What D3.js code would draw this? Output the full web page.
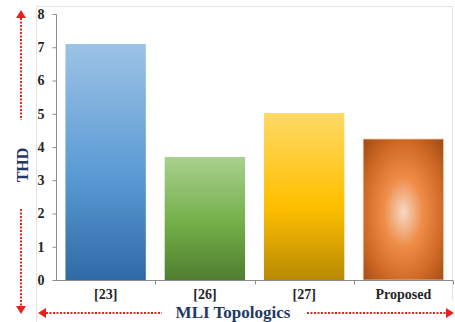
<!DOCTYPE html>
<html><head><meta charset="utf-8">
<script src="https://cdn.jsdelivr.net/npm/d3@7"></script>
<style>html,body{margin:0;padding:0;background:#fff;}svg{display:block;}</style>
</head><body>
<script>
const categories = ["[23]", "[26]", "[27]", "Proposed"];
const thdValues = [7.1, 3.7, 5.02, 4.24];
const yTicks = [0, 1, 2, 3, 4, 5, 6, 7, 8];
const xTitle = "MLI Topologics";
const yTitle = "THD";

const W = 455, H = 322;
const svg = d3.select("body").append("svg").attr("width", W).attr("height", H);
const defs = svg.append("defs");

const grads = [
  ["g0", ["#9dc3e6", "#5b9bd5", "#2f6aa6"]],
  ["g1", ["#a9d18e", "#72ae48", "#4f7e2f"]],
  ["g2", ["#ffd966", "#ffc000", "#b88a05"]]
];
grads.forEach(([id, cs]) => {
  const g = defs.append("linearGradient").attr("id", id).attr("x1", 0).attr("y1", 0).attr("x2", 0).attr("y2", 1);
  g.append("stop").attr("offset", "0%").attr("stop-color", cs[0]);
  g.append("stop").attr("offset", "55%").attr("stop-color", cs[1]);
  g.append("stop").attr("offset", "100%").attr("stop-color", cs[2]);
});
const rg = defs.append("radialGradient").attr("id", "g3").attr("cx", "50%").attr("cy", "52%").attr("r", "70%");
rg.append("stop").attr("offset", "0%").attr("stop-color", "#f8d8c4");
rg.append("stop").attr("offset", "35%").attr("stop-color", "#ee8c48");
rg.append("stop").attr("offset", "70%").attr("stop-color", "#d06a26");
rg.append("stop").attr("offset", "100%").attr("stop-color", "#a24c15");

// chart frame
svg.append("path").attr("d", "M36.5,330 V6.5 H452.5 V300")
  .attr("fill", "none").attr("stroke", "#e3e3e3").attr("stroke-width", 1);

const x = d3.scaleBand().domain(categories).range([56, 453]).paddingInner(0.19).paddingOuter(0.095);
const y = d3.scaleLinear().domain([0, 8]).range([280, 14]);

// bars
svg.append("g").selectAll("rect").data(categories).join("rect")
  .attr("x", d => x(d))
  .attr("width", x.bandwidth())
  .attr("y", (d, i) => y(thdValues[i]))
  .attr("height", (d, i) => y(0) - y(thdValues[i]))
  .attr("fill", (d, i) => `url(#g${i})`)
  .attr("stroke", (d, i) => i === 3 ? "#efc9a5" : "none")
  .attr("stroke-width", 0.8);

// y axis
const yAxis = svg.append("g").attr("transform", "translate(56.5,0)")
  .call(d3.axisLeft(y).tickValues(yTicks).tickSize(4).tickPadding(8).tickFormat(d3.format("d")));
yAxis.select(".domain").attr("stroke", "#8c8c8c").attr("d", "M0,14.5V280.5");
yAxis.selectAll(".tick line").attr("stroke", "#8c8c8c");
yAxis.selectAll("text").attr("font-family", "'Liberation Serif', serif").attr("font-weight", "bold")
  .attr("font-size", 14).attr("fill", "#262626");

// x axis
const xAxis = svg.append("g").attr("transform", "translate(0,280.5)")
  .call(d3.axisBottom(x).tickSize(0).tickPadding(9));
xAxis.select(".domain").attr("stroke", "#8c8c8c").attr("d", "M53,0H453");
xAxis.selectAll("text").attr("font-family", "'Liberation Serif', serif").attr("font-weight", "bold")
  .attr("font-size", 14).attr("fill", "#262626");
// boundary ticks between categories
const bounds = categories.map(c => x(c) - x.step() * x.paddingInner() / 2).concat([453]);
xAxis.append("g").selectAll("line").data(bounds.slice(1)).join("line")
  .attr("x1", d => Math.round(d) + 0.5).attr("x2", d => Math.round(d) + 0.5)
  .attr("y1", 0).attr("y2", 4).attr("stroke", "#8c8c8c");

// titles
svg.append("text").attr("x", 233).attr("y", 318).attr("text-anchor", "middle")
  .attr("font-family", "'Liberation Serif', serif").attr("font-weight", "bold").attr("font-size", 17)
  .attr("fill", "#1f3864").text(xTitle);
svg.append("text").attr("transform", "translate(28,165) rotate(-90)").attr("text-anchor", "middle")
  .attr("font-family", "'Liberation Serif', serif").attr("font-weight", "bold").attr("font-size", 16)
  .attr("fill", "#1f3864").text(yTitle);

// red dotted arrows
const red = "#e8201f";
function dotted(x1, y1, x2, y2) {
  svg.append("line").attr("x1", x1).attr("y1", y1).attr("x2", x2).attr("y2", y2)
    .attr("stroke", red).attr("stroke-width", 2).attr("stroke-dasharray", "2,1.5");
}
function head(tx, ty, dir) {
  const s = 5, l = 8;
  let p;
  if (dir === "up") p = [[tx, ty], [tx - s, ty + l], [tx + s, ty + l]];
  if (dir === "down") p = [[tx, ty], [tx - s, ty - l], [tx + s, ty - l]];
  if (dir === "left") p = [[tx, ty], [tx + l, ty - s], [tx + l, ty + s]];
  if (dir === "right") p = [[tx, ty], [tx - l, ty - s], [tx - l, ty + s]];
  svg.append("polygon").attr("points", p.map(q => q.join(",")).join(" ")).attr("fill", red);
}
dotted(21, 18, 21, 120); head(21, 10, "up");
dotted(21, 209, 21, 306); head(21, 314, "down");
dotted(46, 313, 162, 313); head(38, 313, "left");
dotted(307, 313, 446, 313); head(454, 313, "right");
</script>
</body></html>
